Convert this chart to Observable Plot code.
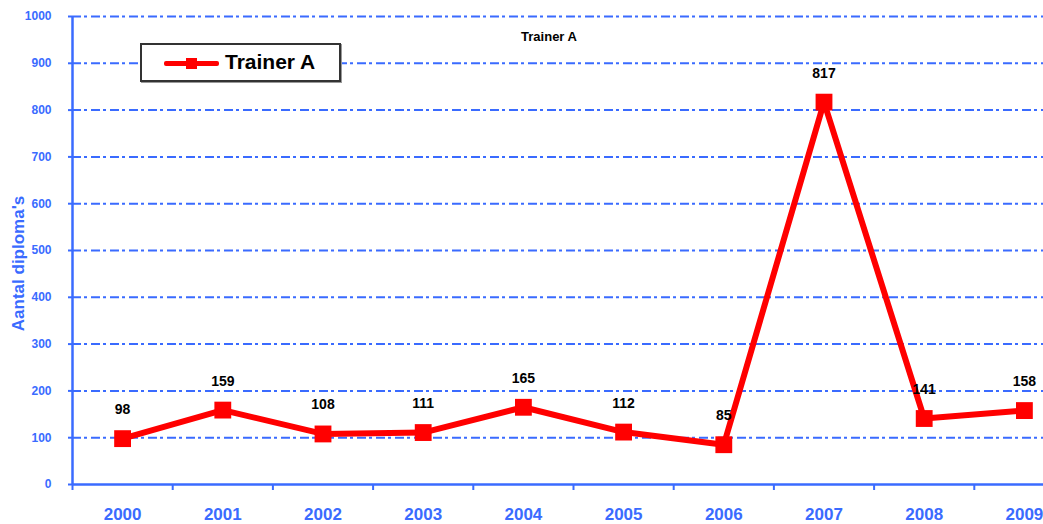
<!DOCTYPE html>
<html>
<head>
<meta charset="utf-8">
<script src="https://cdn.jsdelivr.net/npm/d3@7"></script>
<script src="https://cdn.jsdelivr.net/npm/@observablehq/plot@0.6"></script>
<style>
  html, body { margin: 0; padding: 0; background: #fff; }
  #wrap { position: relative; width: 1043px; height: 524px; overflow: hidden; }
  #legend {
    position: absolute; left: 140px; top: 43px; width: 197px; height: 35px;
    border: 2px solid #333; background: #fff; box-shadow: 1px 1px 0 #999;
    font-family: "Liberation Sans", Arial, sans-serif; font-weight: bold; font-size: 21px; color: #000;
  }
  #legend .ln { position: absolute; left: 22px; top: 16px; width: 55px; height: 5px; background: #ff0000; border-radius: 2px; }
  #legend .mk { position: absolute; left: 44px; top: 13px; width: 11px; height: 11px; background: #ff0000; }
  #legend .tx { position: absolute; left: 83px; top: 5px; }
</style>
</head>
<body>
<div id="wrap"><div id="chart"></div>
  <div id="legend"><div class="ln"></div><div class="mk"></div><div class="tx">Trainer A</div></div>
</div>
<script>
const years = [2000, 2001, 2002, 2003, 2004, 2005, 2006, 2007, 2008, 2009];
const diplomas = [98, 159, 108, 111, 165, 112, 85, 817, 141, 158];
const yTicks = [0, 100, 200, 300, 400, 500, 600, 700, 800, 900, 1000];
const title = "Trainer A";
const yLabel = "Aantal diploma's";

const data = years.map((y, i) => ({year: y, value: diplomas[i]}));
const bounds = years.map(y => y - 0.5).concat([years[years.length - 1] + 0.5]);
const blue = "#3a6bff";
const font = "Liberation Sans, Arial, sans-serif";

const chart = Plot.plot({
  width: 1043,
  height: 524,
  marginLeft: 72,
  marginTop: 16,
  marginBottom: 40,
  marginRight: 0,
  style: {fontFamily: font, background: "#fff"},
  x: {type: "linear", domain: [1999.5, 2009.5], range: [72, 1074]},
  y: {domain: [0, 1000], range: [484, 16]},
  marks: [
    Plot.ruleY(yTicks.filter(d => d > 0), {stroke: blue, strokeWidth: 2, strokeDasharray: "9,3,3,4"}),
    Plot.ruleY([0], {stroke: blue, strokeWidth: 2.5}),
    Plot.ruleX([1999.5], {y1: 0, y2: 1000, stroke: blue, strokeWidth: 2.5}),
    Plot.axisY({ticks: yTicks, tickSize: 4, tickPadding: 17, fontSize: 12, fontWeight: "bold", color: blue, stroke: blue, strokeWidth: 2, tickFormat: d => String(d), label: null}),
    Plot.axisX({ticks: bounds, tickSize: 6, tickFormat: () => "", stroke: blue, strokeWidth: 2, label: null}),
    Plot.axisX({ticks: years, tickSize: 0, tickPadding: 23, fontSize: 17, fontWeight: "bold", color: blue, tickFormat: d => String(d), label: null}),
    Plot.text([yLabel], {frameAnchor: "left", dx: -54, dy: 13, rotate: -90, textAnchor: "middle", fontSize: 17, fontWeight: "bold", fill: blue}),
    Plot.text([title], {frameAnchor: "top", dx: -9, dy: 15, fontSize: 13, fontWeight: "bold", fill: "#000"}),
    Plot.line(data, {x: "year", y: "value", stroke: "#ff0000", strokeWidth: 6}),
    Plot.dot(data, {x: "year", y: "value", symbol: "square", r: 9.5, fill: "#ff0000", stroke: "none"}),
    Plot.text(data, {x: "year", y: "value", text: d => String(d.value), dy: -29, fontSize: 14, fontWeight: "bold", fill: "#000"})
  ]
});
document.getElementById("chart").appendChild(chart);
</script>
</body>
</html>
